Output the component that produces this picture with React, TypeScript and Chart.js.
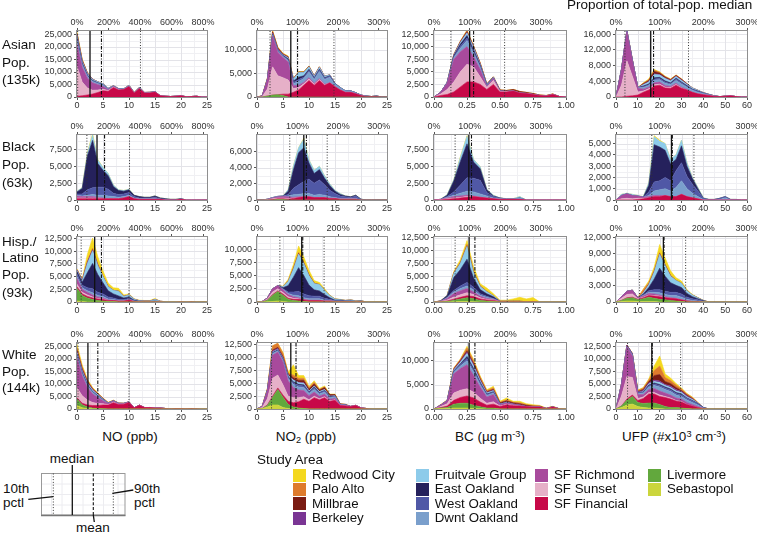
import React, { useEffect, useRef } from "react";
import { Chart, registerables } from "chart.js";
Chart.register(...registerables);

const FONT = '"Liberation Sans", Arial, Helvetica, sans-serif';
const PEOPLE_PER_UNIT = 1000; // series values below are in thousands of people

// ---- Study areas (legend order = top of stack first) ----
const AREA_KEYS = ["RC", "PA", "MB", "BK", "FV", "EO", "WO", "DO", "SR", "SS", "SF", "LV", "SB"];
const AREA_NAMES = ["Redwood City", "Palo Alto", "Millbrae", "Berkeley", "Fruitvale Group", "East Oakland", "West Oakland", "Dwnt Oakland", "SF Richmond", "SF Sunset", "SF Financial", "Livermore", "Sebastopol"];
const AREA_COLORS = ["#F4D81E", "#DE7B2C", "#7A1B12", "#7A3594", "#8DCBEA", "#25215C", "#5058A6", "#7A9FCC", "#A84A9C", "#E6B0C8", "#C70848", "#62A83D", "#CBD53C"];

const ROW_LABELS = [["Asian", "Pop.", "(135k)"], ["Black", "Pop.", "(63k)"], ["Hisp./", "Latino", "Pop.", "(93k)"], ["White", "Pop.", "(144k)"]];

// ---- x grids ----
const NO_X = [0, 1, 2, 3, 4, 5, 6, 7, 8, 9, 10, 11, 12, 13, 14, 15, 16, 17, 18, 19, 20, 21, 22, 23, 24, 25];
const NO2_X = [0, 1, 2, 3, 4, 5, 6, 7, 8, 9, 10, 11, 12, 13, 14, 15, 16, 17, 18, 19, 20, 21, 22, 23, 24, 25];
const BC_X = [0, 0.05, 0.1, 0.15, 0.2, 0.25, 0.3, 0.35, 0.4, 0.45, 0.5, 0.55, 0.6, 0.65, 0.7, 0.75, 0.8, 0.85, 0.9, 0.95, 1];
const UFP_X = [0, 2.5, 5, 7.5, 10, 12.5, 15, 17.5, 20, 22.5, 25, 27.5, 30, 32.5, 35, 37.5, 40, 42.5, 45, 47.5, 50, 52.5, 55, 57.5, 60];

// ---- axis ticks ----
const NO_XTICKS = [0, 5, 10, 15, 20, 25];
const NO_XLABELS = ["0", "5", "10", "15", "20", "25"];
const NO2_XTICKS = [0, 5, 10, 15, 20, 25];
const NO2_XLABELS = ["0", "5", "10", "15", "20", "25"];
const BC_XTICKS = [0, 0.25, 0.5, 0.75, 1];
const BC_XLABELS = ["0.00", "0.25", "0.50", "0.75", "1.00"];
const UFP_XTICKS = [0, 10, 20, 30, 40, 50, 60];
const UFP_XLABELS = ["0", "10", "20", "30", "40", "50", "60"];

const NO_PCT = [0, 200, 400, 600, 800];
const NO2_PCT = [0, 100, 200, 300];
const BC_PCT = [0, 100, 200, 300];
const UFP_PCT = [0, 100, 200, 300];
const NO_TOTAL_MEDIAN = 3.03;
const NO2_TOTAL_MEDIAN = 7.8;
const BC_TOTAL_MEDIAN = 0.27;
const UFP_TOTAL_MEDIAN = 20;

const NO_YTICKS = [[0, 5000, 10000, 15000, 20000, 25000], [0, 2500, 5000, 7500], [0, 2500, 5000, 7500, 10000, 12500], [0, 5000, 10000, 15000, 20000, 25000]];
const NO_YMAX = [26400, 9600, 12800, 26400];
const NO2_YTICKS = [[0, 5000, 10000], [0, 2000, 4000, 6000], [0, 2500, 5000, 7500, 10000], [0, 2500, 5000, 7500, 10000, 12500]];
const NO2_YMAX = [14000, 8100, 12300, 12850];
const BC_YTICKS = [[0, 2500, 5000, 7500, 10000, 12500], [0, 2500, 5000, 7500], [0, 2500, 5000, 7500, 10000, 12500], [0, 5000, 10000]];
const BC_YMAX = [13100, 9600, 12600, 13700];
const UFP_YTICKS = [[0, 4000, 8000, 12000, 16000], [0, 1000, 2000, 3000, 4000, 5000], [0, 3000, 6000, 9000, 12000], [0, 2500, 5000, 7500, 10000, 12500]];
const UFP_YMAX = [16800, 5760, 12100, 13200];

// ---- summary statistics (rows: Asian, Black, Hisp., White) ----
const NO_P10 = [0.13, 1.9, 0.8, 0.2];
const NO_MED = [2.5, 3.85, 3.4, 2.1];
const NO_MEAN = [4.7, 5.3, 4.7, 4.0];
const NO_P90 = [12.2, 10.1, 10.0, 10.0];
const NO2_P10 = [2.5, 6.3, 4.4, 2.8];
const NO2_MED = [6.5, 9.0, 8.6, 6.5];
const NO2_MEAN = [7.8, 9.5, 8.8, 7.5];
const NO2_P90 = [14.8, 13.5, 12.9, 13.8];
const BC_P10 = [0.128, 0.16, 0.16, 0.128];
const BC_MED = [0.27, 0.264, 0.266, 0.266];
const BC_MEAN = [0.3, 0.284, 0.31, 0.31];
const BC_P90 = [0.535, 0.417, 0.555, 0.558];
const UFP_P10 = [4.1, 16.4, 10.8, 5.3];
const UFP_MED = [15.9, 25.4, 21.7, 16.4];
const UFP_MEAN = [17.2, 25.8, 22.0, 16.6];
const UFP_P90 = [33.2, 35.7, 31.9, 29.6];

// ================= Asian =================
const aNO_SF = [0.3, 0.5, 0.8, 1.2, 1.8, 2.5, 2.3, 3.8, 2.8, 3, 4.2, 1.6, 3.4, 1.6, 1.6, 2, 0.5, 0.3, 0.2, 0.3, 0.5, 0.1, 0.2, 0.3];
const aNO_SS = [12, 5.5, 2.8, 1.5, 1, 0.6, 0.3, 0.2, 0.1];
const aNO_SR = [9, 6, 4, 3, 2.2, 1.2, 0.4, 0.2, 0.2];
const aNO_DO = [1.2, 0.8, 0.6, 0.5, 0.4, 0.4, 0.2, 0.1, 0.1, 0.1, 0.2, 0.1, 0.2, 0.1, 0.1, 0.1];
const aNO_WO = [0.6, 0.4, 0.3, 0.2, 0.2, 0.1];
const aNO_EO = [0.6, 0.4, 0.3, 0.2, 0.1, 0.1];
const aNO_FV = [0.8, 0.6, 0.5, 0.4, 0.4, 0.4, 0.3, 0.2, 0.2, 0.2, 0.3, 0.1, 0.3, 0.1, 0.2, 0.1];
const aNO_BK = [0.4, 0.3, 0.2, 0.1];
const aNO_MB = [0.4, 0.2, 0.1];
const aNO_PA = [0.3, 0.2, 0.1];
const aNO_RC = [0.4, 0.3, 0.1];

const aNO2_LV = [0, 0, 0.2, 0.4, 0.5, 0.3];
const aNO2_SF = [0, 0, 0, 0, 0, 0.3, 0.6, 1, 1.5, 2.5, 3.5, 2.5, 3.5, 2.5, 3, 2.2, 1.5, 1, 1, 0.7, 0.3, 0.1, 0.1, 0.1];
const aNO2_SS = [0, 0.1, 1.5, 6, 4, 3.5, 3, 0.8, 0.5, 0.3, 0.3, 0.2, 0.2, 0.1];
const aNO2_SR = [0, 0.1, 2, 6.5, 5, 4.3, 3.8, 0.6, 0.5, 0.3, 0.3, 0.2, 0.2, 0.1];
const aNO2_DO = [0, 0, 0, 0.2, 0.2, 0.2, 0.3, 0.4, 0.8, 0.8, 1.2, 0.8, 1.5, 1, 1.2, 0.5, 0.5, 0.3, 0.3, 0.2, 0.1, 0.1, 0, 0.1];
const aNO2_WO = [0, 0, 0, 0.1, 0.1, 0.1, 0.2, 0.3, 0.4, 0.3, 0.3, 0.2, 0.3, 0.2, 0.2, 0.1];
const aNO2_EO = [0, 0, 0, 0.1, 0.1, 0.1, 0.2, 0.3, 0.5, 0.3, 0.3, 0.2, 0.2, 0.2, 0.1];
const aNO2_FV = [0, 0, 0, 0.1, 0.1, 0.1, 0.2, 0.4, 1, 0.7, 0.5, 0.3, 0.4, 0.3, 0.2, 0.1];
const aNO2_BK = [0, 0, 0.1, 0.2, 0.2, 0.1, 0.1];
const aNO2_MB = [0, 0, 0.1, 0.2, 0.2, 0.1, 0.1, 0.1, 0.1, 0.1, 0.1, 0.1, 0.1];
const aNO2_PA = [0, 0.1, 0.1, 0.2, 0.1, 0.1, 0.1];
const aNO2_RC = [0, 0, 0, 0.1, 0.1, 0.1, 0.1, 0.1, 0.1, 0.1, 0.1];

const aBC_SF = [0, 0.3, 0.5, 1, 2, 3, 3, 2.5, 1.5, 2.5, 1, 1, 1.2, 0.8, 0.7, 0.5, 0.3, 0.2, 0.5, 0.1];
const aBC_SS = [0, 0.3, 1, 2, 3, 3.5, 3, 1.5, 0.4, 0.8, 0.1, 0.1];
const aBC_SR = [0, 0.3, 1.3, 4.5, 4, 3.5, 2, 1.5, 0.2, 0.4, 0.1];
const aBC_DO = [0, 0, 0.1, 0.3, 0.7, 1.2, 0.7, 0.4, 0.1, 0.1];
const aBC_WO = [0, 0, 0, 0.2, 0.4, 0.5, 0.3, 0.2, 0.1];
const aBC_EO = [0, 0, 0, 0.2, 0.4, 0.5, 0.4, 0.2, 0.1];
const aBC_FV = [0, 0, 0, 0.1, 0.3, 0.5, 0.4, 0.2, 0.1, 0.1];
const aBC_BK = [0, 0, 0, 0.05, 0.1, 0.1, 0.1, 0.1];
const aBC_MB = [0, 0, 0, 0.05, 0.1, 0.2, 0.1, 0.1, 0.1, 0.1, 0.2, 0.2, 0.3, 0.3, 0.2, 0.2, 0.1, 0.1, 0.1];
const aBC_PA = [0, 0, 0, 0.05, 0.1, 0.2, 0.1, 0.1];
const aBC_RC = [0, 0, 0, 0, 0, 0.1, 0.05];

const aUFP_SF = [0, 0, 0.2, 0.3, 0.5, 1.2, 1.8, 2.8, 3, 2.3, 2.2, 3, 2.2, 1.8, 1.2, 0.8, 0.6, 0.4, 0.2, 0.1, 0.2, 0.3, 0.1];
const aUFP_SS = [0, 3, 9, 5, 0.8, 0.3, 0.3, 0.3, 0.3, 0.2, 0.2, 0.2, 0.1];
const aUFP_SR = [0, 4, 7.5, 4, 1, 0.5, 0.4, 0.5, 0.5, 0.4, 0.3, 0.3, 0.2, 0.1];
const aUFP_DO = [0, 0, 0.1, 0.1, 0.1, 0.4, 0.4, 0.7, 0.6, 0.6, 0.5, 0.7, 0.8, 0.6, 0.5, 0.4, 0.3, 0.2, 0.1];
const aUFP_WO = [0, 0, 0, 0, 0, 0.2, 0.2, 0.3, 0.3, 0.3, 0.2, 0.3, 0.3, 0.2, 0.2, 0.2, 0.1];
const aUFP_EO = [0, 0, 0, 0, 0, 0.2, 0.2, 0.3, 0.3, 0.3, 0.2, 0.3, 0.2, 0.2, 0.1, 0.1];
const aUFP_FV = [0, 0, 0, 0, 0, 0.3, 0.5, 0.8, 0.6, 0.6, 0.5, 0.4, 0.4, 0.3, 0.3, 0.2, 0.1, 0.1];
const aUFP_BK = [0, 0, 0.1, 0.1, 0, 0.1, 0.1, 0.2, 0.1, 0.1, 0.1, 0.1, 0.1, 0.1];
const aUFP_MB = [0, 0, 0, 0, 0, 0.2, 0.3, 0.6, 0.4, 0.3, 0.2, 0.2, 0.2, 0.1];
const aUFP_PA = [0, 0, 0, 0, 0, 0.1, 0.2, 0.3, 0.2, 0.1, 0.1, 0.1, 0.1];
const aUFP_RC = [0, 0, 0, 0, 0, 0.1, 0.2, 0.2, 0.1, 0.1, 0.1];

// ================= Black =================
const bNO_SF = [0.2, 0.2, 0.2, 0.2, 0.2, 0.2, 0.2, 0.2, 0.2, 0.3, 0.5, 0.2, 0.1, 0.1, 0.1, 0.1, 0.1, 0, 0, 0, 0.1];
const bNO_SS = [0.1, 0.1, 0.1, 0.1, 0.1];
const bNO_SR = [0.3, 0.2, 0.2, 0.2, 0.1, 0.1];
const bNO_DO = [0.1, 0.1, 0.2, 0.3, 0.3, 0.4, 0.4, 0.3, 0.2, 0.2, 0.2, 0.1, 0.1, 0.1, 0.1, 0.1];
const bNO_WO = [0.2, 0.3, 0.8, 1, 1.2, 1.2, 1, 0.5, 0.4, 0.4, 0.4, 0.2, 0.1, 0.1, 0.1, 0.2, 0.1, 0.1, 0, 0, 0.1];
const bNO_EO = [0.3, 0.8, 5, 7, 3.5, 2.5, 2, 1, 0.6, 0.4, 0.4, 0.2, 0.2, 0.1, 0.1, 0.2, 0.1, 0.1, 0.1, 0.1];
const bNO_FV = [0.1, 0.1, 0.4, 0.8, 0.5, 0.4, 0.3, 0.2, 0.1, 0.1, 0.1];
const bNO_RC = [0, 0, 0.1, 0.2, 0.1];

const bNO2_LV = [0, 0, 0, 0, 0.05, 0.05];
const bNO2_SF = [0, 0, 0, 0.05, 0.1, 0.1, 0.1, 0.2, 0.3, 0.4, 0.4, 0.3, 0.3, 0.3, 0.2, 0.2, 0.1, 0.1, 0.1, 0.1];
const bNO2_SS = [0, 0, 0.05, 0.1, 0.1, 0.1, 0.1, 0.05];
const bNO2_SR = [0, 0, 0.05, 0.1, 0.15, 0.2, 0.2, 0.1, 0.1];
const bNO2_DO = [0, 0, 0, 0.05, 0.05, 0.05, 0.1, 0.3, 0.3, 0.4, 0.4, 0.3, 0.4, 0.3, 0.2, 0.1, 0.1, 0.1, 0.1, 0.1];
const bNO2_WO = [0, 0, 0, 0, 0, 0, 0.2, 0.8, 1.2, 1.5, 1.8, 1.5, 1.8, 1.3, 0.8, 0.5, 0.3, 0.2, 0.1, 0.3, 0.1];
const bNO2_EO = [0, 0, 0, 0, 0, 0, 0.4, 2.3, 4, 4.2, 2, 1.2, 1.3, 0.8, 0.6, 0.3, 0.2, 0.1, 0.1, 0.1];
const bNO2_FV = [0, 0, 0, 0, 0, 0, 0.2, 0.5, 0.6, 1.1, 0.4, 0.4, 0.4, 0.3, 0.2, 0.1, 0.1];
const bNO2_RC = [0, 0, 0, 0, 0, 0, 0, 0, 0, 0.1];

const bBC_SF = [0, 0, 0.1, 0.2, 0.3, 0.4, 0.5, 0.4, 0.3, 0.2, 0.1, 0.1, 0.1, 0.1];
const bBC_SS = [0, 0.05, 0.1, 0.1, 0.1, 0.1];
const bBC_SR = [0, 0.05, 0.1, 0.2, 0.2, 0.2, 0.1];
const bBC_DO = [0, 0, 0.1, 0.2, 0.4, 0.6, 0.6, 0.5, 0.3, 0.1, 0.1, 0.05, 0.05, 0.2];
const bBC_WO = [0, 0, 0.1, 0.5, 1.2, 2, 2, 2, 0.5, 0.2, 0.1];
const bBC_EO = [0, 0, 0.2, 1.6, 3.5, 5, 2.4, 1.7, 0.4, 0.1];
const bBC_FV = [0, 0, 0.1, 0.2, 0.6, 1.1, 0.4, 0.3, 0.1, 0.1, 0, 0.05, 0.05, 0.2];
const bBC_RC = [0, 0, 0, 0, 0.1, 0.1];

const bUFP_SF = [0, 0, 0, 0, 0.05, 0.1, 0.2, 0.3, 0.3, 0.4, 0.3, 0.3, 0.5, 0.3, 0.2, 0.1];
const bUFP_SS = [0, 0.1, 0.15, 0.1, 0.1, 0.05];
const bUFP_SR = [0, 0.3, 0.4, 0.3, 0.2, 0.1, 0.1, 0.1, 0.1];
const bUFP_DO = [0, 0, 0, 0, 0, 0, 0.1, 0.4, 0.5, 0.6, 0.5, 0.8, 1.2, 0.7, 0.4, 0.2, 0.05, 0, 0, 0.05, 0.2];
const bUFP_WO = [0, 0, 0, 0, 0, 0, 0.3, 0.8, 0.8, 1, 0.9, 1.5, 1.6, 1.1, 0.8, 0.5, 0.1, 0.05, 0.05, 0.1, 0.1, 0.05, 0.05];
const bUFP_EO = [0, 0, 0, 0, 0, 0, 0.6, 3.3, 3, 2.4, 1.5, 1, 1.5, 0.9, 0.5, 0.2];
const bUFP_FV = [0, 0.1, 0.05, 0.1, 0.05, 0.05, 0.2, 0.7, 0.5, 0.6, 0.4, 0.4, 0.5, 0.3, 0.1, 0.1, 0.05];
const bUFP_RC = [0, 0, 0, 0, 0, 0, 0, 0.1, 0.1];

// ================= Hispanic / Latino =================
const hNO_SB = [0.2, 0.1];
const hNO_LV = [2.5, 1.2, 0.8, 0.5, 0.3, 0.2, 0.1, 0.1];
const hNO_SF = [0.3, 0.3, 0.3, 0.3, 0.3, 0.3, 0.2, 0.2, 0.2, 0.2, 0.4, 0.1, 0.05, 0.05, 0.05, 0.1, 0.05, 0, 0, 0, 0.05, 0, 0.05];
const hNO_SS = [0.5, 0.3, 0.3, 0.2, 0.1, 0.1];
const hNO_SR = [1.2, 0.6, 0.5, 0.4, 0.3, 0.2, 0.1];
const hNO_DO = [0.3, 0.3, 0.3, 0.4, 0.3, 0.3, 0.2, 0.2, 0.1, 0.1, 0.1, 0.05];
const hNO_WO = [0.5, 0.5, 0.6, 0.8, 0.6, 0.5, 0.4, 0.3, 0.2, 0.2, 0.2, 0.1];
const hNO_EO = [0.5, 0.6, 3, 5, 3.5, 2.2, 1.2, 0.8, 0.7, 0.3, 0.3, 0.1, 0.1, 0.05, 0.05, 0.1];
const hNO_FV = [0.2, 0.3, 1.8, 2.5, 1.8, 1.2, 0.8, 0.7, 0.9, 0.3, 0.4, 0.2, 0.1, 0.1, 0.1, 0.3, 0.1, 0.05];
const hNO_BK = [0.1, 0.1, 0.1, 0.1];
const hNO_MB = [0, 0, 0.1, 0.1, 0.1];
const hNO_PA = [0.1, 0.1, 0.3, 0.3, 0.2, 0.1, 0.1];
const hNO_RC = [0.1, 0.1, 1.3, 2, 1.4, 1, 0.6, 0.5, 0.6, 0.3, 0.2, 0.1, 0.1, 0.1, 0.1, 0.2];

const hNO2_SB = [0, 0, 0.05, 0.1, 0.2, 0.1];
const hNO2_LV = [0, 0, 0.3, 1.2, 1.8, 1.2, 0.5, 0.3, 0.2, 0.1];
const hNO2_SF = [0, 0, 0, 0.1, 0.1, 0.2, 0.2, 0.2, 0.3, 0.3, 0.3, 0.3, 0.3, 0.2, 0.2, 0.1, 0.1, 0.1, 0.1, 0.05, 0.1];
const hNO2_SS = [0, 0.05, 0.2, 0.5, 0.4, 0.3, 0.3, 0.2, 0.1];
const hNO2_SR = [0, 0.05, 0.2, 0.6, 0.6, 0.5, 0.4, 0.3, 0.2, 0.1];
const hNO2_DO = [0, 0, 0, 0, 0, 0.1, 0.2, 0.3, 0.4, 0.3, 0.3, 0.3, 0.3, 0.2, 0.1, 0.05, 0.05, 0.05, 0.05];
const hNO2_WO = [0, 0, 0, 0, 0, 0.1, 0.3, 0.6, 0.8, 0.7, 0.6, 0.5, 0.5, 0.3, 0.2, 0.1, 0.1, 0.05, 0.05, 0.05, 0.05];
const hNO2_EO = [0, 0, 0, 0, 0, 0.2, 1.2, 2.8, 4.5, 3.5, 2, 1.2, 1, 0.7, 0.3, 0.1, 0.1];
const hNO2_FV = [0, 0, 0, 0, 0, 0.2, 0.8, 1.5, 2.6, 2.3, 1.8, 1.2, 1.2, 0.8, 0.4, 0.2, 0.1, 0.1, 0.2, 0.1, 0.1];
const hNO2_MB = [0, 0, 0, 0, 0, 0, 0, 0.1, 0.1, 0.1, 0.1, 0.05];
const hNO2_PA = [0, 0, 0, 0, 0, 0, 0.1, 0.2, 0.2, 0.1, 0.1];
const hNO2_RC = [0, 0, 0, 0, 0, 0.1, 0.3, 0.6, 1.2, 1, 0.8, 0.5, 0.4, 0.3, 0.1, 0.05, 0.05];

const hBC_SB = [0, 0, 0, 0.05, 0.1, 0.1, 0.05];
const hBC_LV = [0, 0, 0.1, 0.3, 0.5, 0.7, 0.6, 0.3, 0.2, 0.1];
const hBC_SF = [0, 0.05, 0.1, 0.2, 0.3, 0.4, 0.4, 0.3, 0.2, 0.2, 0.1, 0.1, 0.1, 0.1, 0.05, 0.1];
const hBC_SS = [0, 0.05, 0.2, 0.4, 0.5, 0.6, 0.4, 0.2, 0.1, 0.1];
const hBC_SR = [0, 0.05, 0.3, 0.7, 0.8, 0.8, 0.5, 0.3, 0.2, 0.1];
const hBC_DO = [0, 0, 0.1, 0.3, 0.4, 0.5, 0.4, 0.2, 0.2, 0.1];
const hBC_WO = [0, 0, 0.1, 0.3, 0.5, 0.7, 0.5, 0.3, 0.2, 0.1];
const hBC_EO = [0, 0.05, 0.3, 2.5, 3.2, 4.5, 1.8, 0.8, 0.5, 0.3];
const hBC_FV = [0, 0, 0.1, 0.8, 1.2, 2.5, 1, 0.6, 0.4, 0.2, 0.05, 0.05, 0.05, 0.05];
const hBC_MB = [0, 0, 0, 0.05, 0.05, 0.1, 0.1, 0.05];
const hBC_PA = [0, 0, 0, 0.1, 0.2, 0.3, 0.2, 0.1, 0.1];
const hBC_RC = [0, 0, 0, 0.2, 0.5, 0.7, 0.9, 0.4, 0.6, 0.4, 0.2, 0.2, 0.45, 0.75, 0.55, 0.75, 0.05];

const hUFP_SB = [0, 0.1, 0.2, 0.2, 0.1, 0.1, 0.1, 0.1];
const hUFP_LV = [0, 0.2, 0.5, 0.6, 0.3, 0.5, 0.8, 0.6, 0.5, 0.4, 0.3, 0.2, 0.1];
const hUFP_SF = [0, 0, 0.1, 0.1, 0.1, 0.2, 0.3, 0.4, 0.5, 0.4, 0.4, 0.4, 0.3, 0.2, 0.1, 0.1];
const hUFP_SS = [0, 0.4, 0.6, 0.6, 0.1, 0.1, 0.1, 0.1, 0.1];
const hUFP_SR = [0, 0.3, 0.6, 0.7, 0.2, 0.2, 0.3, 0.3, 0.2, 0.2, 0.1, 0.1];
const hUFP_DO = [0, 0, 0, 0, 0, 0.1, 0.2, 0.3, 0.4, 0.4, 0.4, 0.5, 0.5, 0.3, 0.2, 0.1, 0.05];
const hUFP_WO = [0, 0, 0, 0, 0, 0.1, 0.3, 0.5, 0.6, 0.6, 0.6, 0.6, 0.6, 0.4, 0.3, 0.2, 0.1];
const hUFP_EO = [0, 0, 0, 0, 0, 0.2, 0.6, 2, 4, 2.8, 1.8, 1.3, 1.2, 0.7, 0.4, 0.2, 0.1];
const hUFP_FV = [0, 0, 0, 0, 0, 0.2, 0.5, 1.3, 2.6, 2, 1.2, 0.9, 0.8, 0.5, 0.3, 0.2, 0.05];
const hUFP_MB = [0, 0, 0, 0, 0, 0, 0.1, 0.1, 0.1, 0.1, 0.1];
const hUFP_PA = [0, 0, 0, 0, 0, 0.6, 0.3, 0.2, 0.2, 0.1, 0.1];
const hUFP_RC = [0, 0, 0, 0, 0, 0.1, 0.3, 0.6, 1.5, 1.2, 0.8, 0.5, 0.4, 0.2, 0.1, 0.05];

// ================= White =================
const wNO_SB = [1.5, 0.5, 0.2, 0.1];
const wNO_LV = [2.5, 1.2, 0.6, 0.3, 0.2, 0.1];
const wNO_SF = [0.5, 0.6, 0.8, 1, 1.2, 1.5, 1.6, 2.5, 1.8, 1.9, 2.6, 0.5, 1.5, 0.6, 0.6, 0.4, 0.4, 0.2, 0.1, 0.2, 0.2, 0.1, 0.2, 0.1];
const wNO_SS = [4, 3, 2, 1.2, 0.8, 0.5, 0.2, 0.2, 0.1, 0.1];
const wNO_SR = [12, 8, 5, 3.5, 2.4, 1.2, 0.4, 0.4, 0.2, 0.2, 0.2];
const wNO_DO = [0.8, 0.7, 0.6, 0.5, 0.4, 0.3, 0.1, 0.1, 0.1];
const wNO_WO = [0.3, 0.3, 0.3, 0.2, 0.2, 0.1];
const wNO_EO = [0.3, 0.3, 0.3, 0.2, 0.1, 0.1];
const wNO_FV = [0.5, 0.5, 0.5, 0.5, 0.4, 0.2, 0.1, 0.1, 0.1, 0.1, 0.1];
const wNO_BK = [0.5, 0.5, 0.4, 0.3, 0.2, 0.1];
const wNO_MB = [0.7, 0.5, 0.3, 0.2, 0.2, 0.1, 0.1, 0.1, 0.1];
const wNO_PA = [1, 0.8, 0.5, 0.3, 0.2, 0.1, 0.1, 0.1];
const wNO_RC = [1.3, 0.7, 0.4, 0.3, 0.2, 0.1, 0.1];

const wNO2_SB = [0, 0.1, 0.4, 0.8, 0.8, 0.3, 0.1];
const wNO2_LV = [0, 0, 0.3, 1.5, 3, 2, 0.8, 0.4, 0.2, 0.1];
const wNO2_SF = [0, 0, 0.1, 0.2, 0.3, 0.4, 0.6, 0.8, 1.2, 1.8, 1.5, 2.2, 1.8, 2.2, 1.5, 1.7, 0.7, 0.6, 0.5, 0.7, 0.2, 0.1];
const wNO2_SS = [0, 0.2, 1.2, 3.5, 2.5, 2, 1, 1, 0.8, 0.5, 0.3, 0.3, 0.2, 0.2, 0.1, 0.1];
const wNO2_SR = [0, 0.2, 1.5, 4.5, 4.5, 4.5, 3, 2, 1.5, 1.2, 0.8, 0.8, 0.5, 0.5, 0.3, 0.3, 0.1, 0.1];
const wNO2_DO = [0, 0, 0.1, 0.3, 0.2, 0.3, 0.4, 0.6, 0.6, 0.6, 0.4, 0.5, 0.4, 0.4, 0.3, 0.3, 0.1, 0.1];
const wNO2_WO = [0, 0, 0, 0.1, 0.1, 0.1, 0.2, 0.3, 0.3, 0.3, 0.2, 0.3, 0.2, 0.2, 0.1, 0.1];
const wNO2_EO = [0, 0, 0, 0.1, 0.1, 0.1, 0.2, 0.2, 0.2, 0.2, 0.1, 0.2, 0.1, 0.1, 0.1];
const wNO2_FV = [0, 0, 0, 0.1, 0.1, 0.1, 0.2, 0.3, 0.3, 0.3, 0.2, 0.2, 0.2, 0.2, 0.1, 0.1];
const wNO2_BK = [0, 0, 0.1, 0.2, 0.2, 0.2, 0.1, 0.1, 0.1, 0.1];
const wNO2_MB = [0, 0, 0.1, 0.2, 0.2, 0.2, 0.2, 0.4, 0.4, 0.5, 0.4, 0.4, 0.3, 0.4, 0.3, 0.2, 0.1, 0.1];
const wNO2_PA = [0, 0.1, 0.2, 0.8, 0.8, 0.6, 0.2, 0.5, 0.4, 0.4, 0.3, 0.3, 0.1, 0.1];
const wNO2_RC = [0, 0, 0, 0, 0, 0.2, 0.2, 2, 0.5, 0.5, 0.2, 0.3, 0.2, 0.2, 0.1, 0.1];

const wBC_SB = [0, 0.1, 0.1, 0.2, 0.2, 0.2, 0.1, 0.05];
const wBC_LV = [0, 0.1, 0.2, 0.8, 1, 1, 0.7, 0.4, 0.2, 0.2];
const wBC_SF = [0, 0.1, 0.3, 0.8, 1.2, 1.5, 1.5, 1, 0.6, 0.8, 0.5, 0.9, 0.7, 0.6, 0.5, 0.4, 0.4, 0.1, 0.4, 0.05];
const wBC_SS = [0, 0.2, 0.5, 1.5, 1.5, 1.5, 1.2, 0.8, 0.4, 0.5, 0.1, 0.1, 0.1];
const wBC_SR = [0, 0.3, 0.6, 4, 4.5, 5, 3.5, 2.3, 1.3, 1.5, 0.3, 0.3, 0.2, 0.2];
const wBC_DO = [0, 0, 0.05, 0.3, 0.5, 0.8, 0.7, 0.5, 0.3, 0.3, 0.1, 0.1];
const wBC_WO = [0, 0, 0, 0.2, 0.3, 0.5, 0.4, 0.3, 0.2, 0.2];
const wBC_EO = [0, 0, 0, 0.1, 0.2, 0.4, 0.3, 0.2, 0.1, 0.1];
const wBC_FV = [0, 0, 0, 0.2, 0.3, 0.6, 0.5, 0.3, 0.2, 0.2];
const wBC_BK = [0, 0, 0, 0.1, 0.2, 0.3, 0.3, 0.2, 0.1, 0.1];
const wBC_MB = [0, 0, 0, 0.1, 0.2, 0.3, 0.3, 0.2, 0.2, 0.2, 0.3, 0.3, 0.3, 0.3, 0.3, 0.2, 0.15, 0.05, 0.1];
const wBC_PA = [0, 0.1, 0.1, 0.2, 0.2, 0.6, 0.5, 0.4, 0.2, 0.3, 0.1, 0.2, 0.1, 0.2, 0.1, 0.1, 0.1];
const wBC_RC = [0, 0, 0, 0, 0.1, 0.3, 0.3, 0.2, 0.2, 0.3, 0.2, 0.4, 0.2, 0.3, 0.2, 0.2, 0.1, 0.05, 0.05];

const wUFP_SB = [0, 0.3, 0.8, 1, 0.5, 0.3, 0.2, 0.2, 0.1];
const wUFP_LV = [0, 0.3, 1, 1.5, 0.8, 0.8, 1, 1, 0.8, 0.5, 0.3, 0.3, 0.2, 0.1];
const wUFP_SF = [0, 0, 0.2, 0.3, 0.4, 1, 1.8, 1.8, 1.6, 1.8, 1.7, 1.3, 1.2, 0.8, 0.6, 0.3, 0.1];
const wUFP_SS = [0, 2, 4.5, 3.5, 0.4, 0.3, 0.3, 0.3, 0.3, 0.2, 0.2, 0.1, 0.1];
const wUFP_SR = [0, 2.3, 6, 4.3, 0.8, 0.5, 0.6, 0.8, 0.8, 0.7, 0.6, 0.5, 0.5, 0.4, 0.3, 0.2];
const wUFP_DO = [0, 0, 0.1, 0.2, 0.2, 0.3, 0.5, 0.6, 0.8, 0.7, 0.7, 0.6, 0.5, 0.5, 0.4, 0.3, 0.1];
const wUFP_WO = [0, 0, 0, 0.1, 0.1, 0.1, 0.2, 0.3, 0.3, 0.3, 0.3, 0.3, 0.3, 0.3, 0.3, 0.2, 0.1];
const wUFP_EO = [0, 0, 0, 0, 0, 0.1, 0.2, 0.2, 0.2, 0.2, 0.2, 0.2, 0.2, 0.1, 0.1, 0.1];
const wUFP_FV = [0, 0, 0, 0, 0, 0.1, 0.2, 0.3, 0.4, 0.3, 0.3, 0.3, 0.3, 0.2, 0.2, 0.1];
const wUFP_BK = [0, 0.1, 0.2, 0.2, 0.2, 0.2, 0.2, 0.3, 0.3, 0.2, 0.3, 0.3, 0.2, 0.2, 0.1];
const wUFP_MB = [0, 0, 0, 0, 0.1, 0.2, 0.3, 0.9, 1.3, 0.6, 0.5, 0.4, 0.2, 0.2, 0.1];
const wUFP_PA = [0, 0, 0, 0, 0.2, 0.3, 0.3, 1, 1.7, 0.8, 0.6, 0.5, 0.3, 0.2, 0.2, 0.1];
const wUFP_RC = [0, 0, 0, 0, 0.1, 0.1, 0.2, 0.9, 2, 0.7, 0.5, 0.3, 0.2, 0.1, 0.1];

// ---- tables built from the arrays above ----
const COLUMNS = [
  { xs: NO_X, xMin: 0, xMax: 25, xTicks: NO_XTICKS, xLabels: NO_XLABELS, pct: NO_PCT, totalMed: NO_TOTAL_MEDIAN, yTicks: NO_YTICKS, yMax: NO_YMAX, p10: NO_P10, med: NO_MED, mean: NO_MEAN, p90: NO_P90 },
  { xs: NO2_X, xMin: 0, xMax: 25, xTicks: NO2_XTICKS, xLabels: NO2_XLABELS, pct: NO2_PCT, totalMed: NO2_TOTAL_MEDIAN, yTicks: NO2_YTICKS, yMax: NO2_YMAX, p10: NO2_P10, med: NO2_MED, mean: NO2_MEAN, p90: NO2_P90 },
  { xs: BC_X, xMin: 0, xMax: 1, xTicks: BC_XTICKS, xLabels: BC_XLABELS, pct: BC_PCT, totalMed: BC_TOTAL_MEDIAN, yTicks: BC_YTICKS, yMax: BC_YMAX, p10: BC_P10, med: BC_MED, mean: BC_MEAN, p90: BC_P90 },
  { xs: UFP_X, xMin: 0, xMax: 60, xTicks: UFP_XTICKS, xLabels: UFP_XLABELS, pct: UFP_PCT, totalMed: UFP_TOTAL_MEDIAN, yTicks: UFP_YTICKS, yMax: UFP_YMAX, p10: UFP_P10, med: UFP_MED, mean: UFP_MEAN, p90: UFP_P90 },
];

const PANEL_SERIES = [
  [
    { RC: aNO_RC, PA: aNO_PA, MB: aNO_MB, BK: aNO_BK, FV: aNO_FV, EO: aNO_EO, WO: aNO_WO, DO: aNO_DO, SR: aNO_SR, SS: aNO_SS, SF: aNO_SF },
    { RC: aNO2_RC, PA: aNO2_PA, MB: aNO2_MB, BK: aNO2_BK, FV: aNO2_FV, EO: aNO2_EO, WO: aNO2_WO, DO: aNO2_DO, SR: aNO2_SR, SS: aNO2_SS, SF: aNO2_SF, LV: aNO2_LV },
    { RC: aBC_RC, PA: aBC_PA, MB: aBC_MB, BK: aBC_BK, FV: aBC_FV, EO: aBC_EO, WO: aBC_WO, DO: aBC_DO, SR: aBC_SR, SS: aBC_SS, SF: aBC_SF },
    { RC: aUFP_RC, PA: aUFP_PA, MB: aUFP_MB, BK: aUFP_BK, FV: aUFP_FV, EO: aUFP_EO, WO: aUFP_WO, DO: aUFP_DO, SR: aUFP_SR, SS: aUFP_SS, SF: aUFP_SF },
  ],
  [
    { RC: bNO_RC, FV: bNO_FV, EO: bNO_EO, WO: bNO_WO, DO: bNO_DO, SR: bNO_SR, SS: bNO_SS, SF: bNO_SF },
    { RC: bNO2_RC, FV: bNO2_FV, EO: bNO2_EO, WO: bNO2_WO, DO: bNO2_DO, SR: bNO2_SR, SS: bNO2_SS, SF: bNO2_SF, LV: bNO2_LV },
    { RC: bBC_RC, FV: bBC_FV, EO: bBC_EO, WO: bBC_WO, DO: bBC_DO, SR: bBC_SR, SS: bBC_SS, SF: bBC_SF },
    { RC: bUFP_RC, FV: bUFP_FV, EO: bUFP_EO, WO: bUFP_WO, DO: bUFP_DO, SR: bUFP_SR, SS: bUFP_SS, SF: bUFP_SF },
  ],
  [
    { RC: hNO_RC, PA: hNO_PA, MB: hNO_MB, BK: hNO_BK, FV: hNO_FV, EO: hNO_EO, WO: hNO_WO, DO: hNO_DO, SR: hNO_SR, SS: hNO_SS, SF: hNO_SF, LV: hNO_LV, SB: hNO_SB },
    { RC: hNO2_RC, PA: hNO2_PA, MB: hNO2_MB, FV: hNO2_FV, EO: hNO2_EO, WO: hNO2_WO, DO: hNO2_DO, SR: hNO2_SR, SS: hNO2_SS, SF: hNO2_SF, LV: hNO2_LV, SB: hNO2_SB },
    { RC: hBC_RC, PA: hBC_PA, MB: hBC_MB, FV: hBC_FV, EO: hBC_EO, WO: hBC_WO, DO: hBC_DO, SR: hBC_SR, SS: hBC_SS, SF: hBC_SF, LV: hBC_LV, SB: hBC_SB },
    { RC: hUFP_RC, PA: hUFP_PA, MB: hUFP_MB, FV: hUFP_FV, EO: hUFP_EO, WO: hUFP_WO, DO: hUFP_DO, SR: hUFP_SR, SS: hUFP_SS, SF: hUFP_SF, LV: hUFP_LV, SB: hUFP_SB },
  ],
  [
    { RC: wNO_RC, PA: wNO_PA, MB: wNO_MB, BK: wNO_BK, FV: wNO_FV, EO: wNO_EO, WO: wNO_WO, DO: wNO_DO, SR: wNO_SR, SS: wNO_SS, SF: wNO_SF, LV: wNO_LV, SB: wNO_SB },
    { RC: wNO2_RC, PA: wNO2_PA, MB: wNO2_MB, BK: wNO2_BK, FV: wNO2_FV, EO: wNO2_EO, WO: wNO2_WO, DO: wNO2_DO, SR: wNO2_SR, SS: wNO2_SS, SF: wNO2_SF, LV: wNO2_LV, SB: wNO2_SB },
    { RC: wBC_RC, PA: wBC_PA, MB: wBC_MB, BK: wBC_BK, FV: wBC_FV, EO: wBC_EO, WO: wBC_WO, DO: wBC_DO, SR: wBC_SR, SS: wBC_SS, SF: wBC_SF, LV: wBC_LV, SB: wBC_SB },
    { RC: wUFP_RC, PA: wUFP_PA, MB: wUFP_MB, BK: wUFP_BK, FV: wUFP_FV, EO: wUFP_EO, WO: wUFP_WO, DO: wUFP_DO, SR: wUFP_SR, SS: wUFP_SS, SF: wUFP_SF, LV: wUFP_LV, SB: wUFP_SB },
  ],
];

// ---- layout (pixels) ----
const COL_LEFT = [77, 257, 434, 616];
const COL_W = [130, 130, 132, 131];
const ROW_TOP = [31, 135, 237, 343];
const ROW_H = [66, 65, 65, 66];
const YW = 48, TH = 20, BH = 16, PR = 14;
const TICK_FONT = { size: 9, family: FONT };
const TICK_COLOR = "#333";

function Panel({ row, col }: { row: number; col: number }) {
  const ref = useRef<HTMLCanvasElement | null>(null);
  const C = COLUMNS[col];
  const w = YW + COL_W[col] + PR;
  const h = TH + ROW_H[row] + BH;
  useEffect(() => {
    const series = PANEL_SERIES[row][col] as Record<string, number[]>;
    const datasets: any[] = [];
    for (let k = AREA_KEYS.length - 1; k >= 0; k--) {
      const vals = series[AREA_KEYS[k]];
      if (!vals) continue;
      const first = datasets.length === 0;
      datasets.push({
        label: AREA_NAMES[k],
        data: C.xs.map((x, i) => ({ x, y: (vals[i] || 0) * PEOPLE_PER_UNIT })),
        backgroundColor: AREA_COLORS[k],
        borderColor: AREA_COLORS[k],
        borderWidth: 0.6,
        pointRadius: 0,
        tension: 0,
        fill: first ? "origin" : "-1",
        xAxisID: "x",
        yAxisID: "y",
      });
    }
    const yTicks = C.yTicks[row];
    const yMax = C.yMax[row];
    const stats = [
      { v: C.p10[row], dash: [1, 1.8], w: 1, c: "#333" },
      { v: C.p90[row], dash: [1, 1.8], w: 1, c: "#333" },
      { v: C.mean[row], dash: [3.5, 1.5, 1, 1.5], w: 1.1, c: "#111" },
      { v: C.med[row], dash: [], w: 1.3, c: "#111" },
    ];
    const decor = {
      id: "decor" + row + col,
      beforeDatasetsDraw(chart: any) {
        const { ctx, chartArea: a, scales } = chart;
        ctx.save();
        ctx.beginPath();
        ctx.rect(a.left, a.top, a.right - a.left, a.bottom - a.top);
        ctx.clip();
        const vLine = (px: number, color: string, lw: number) => {
          const x = Math.round(px) + 0.5;
          ctx.beginPath(); ctx.strokeStyle = color; ctx.lineWidth = lw;
          ctx.moveTo(x, a.top); ctx.lineTo(x, a.bottom); ctx.stroke();
        };
        const hLine = (py: number, color: string, lw: number) => {
          const y = Math.round(py) + 0.5;
          ctx.beginPath(); ctx.strokeStyle = color; ctx.lineWidth = lw;
          ctx.moveTo(a.left, y); ctx.lineTo(a.right, y); ctx.stroke();
        };
        const xt = C.xTicks;
        for (let i = 0; i < xt.length - 1; i++) vLine(scales.x.getPixelForValue((xt[i] + xt[i + 1]) / 2), "#f0f0f3", 1);
        for (let i = 0; i < yTicks.length; i++) {
          const step = yTicks[1] - yTicks[0];
          const mid = yTicks[i] + step / 2;
          if (mid < yMax) hLine(scales.y.getPixelForValue(mid), "#f0f0f3", 1);
        }
        xt.forEach((v) => vLine(scales.x.getPixelForValue(v), "#e3e3e8", 1));
        yTicks.forEach((v) => hLine(scales.y.getPixelForValue(v), "#e3e3e8", 1));
        ctx.restore();
      },
      afterDatasetsDraw(chart: any) {
        const { ctx, chartArea: a, scales } = chart;
        ctx.save();
        ctx.beginPath();
        ctx.rect(a.left, a.top, a.right - a.left, a.bottom - a.top);
        ctx.clip();
        stats.forEach((s) => {
          const x = scales.x.getPixelForValue(s.v);
          ctx.beginPath();
          ctx.setLineDash(s.dash);
          ctx.lineWidth = s.w;
          ctx.strokeStyle = s.c;
          ctx.moveTo(x, a.top);
          ctx.lineTo(x, a.bottom);
          ctx.stroke();
        });
        ctx.restore();
        ctx.save();
        ctx.setLineDash([]);
        ctx.strokeStyle = "#8f8f8f";
        ctx.lineWidth = 1;
        ctx.strokeRect(Math.round(a.left) - 0.5, Math.round(a.top) - 0.5, Math.round(a.right - a.left) + 1, Math.round(a.bottom - a.top) + 1);
        ctx.restore();
      },
    };
    const tickGrid = { display: true, drawOnChartArea: false, drawTicks: true, tickLength: 3, color: "#555" };
    const chart = new Chart(ref.current as HTMLCanvasElement, {
      type: "line",
      data: { datasets },
      options: {
        responsive: false,
        animation: false,
        events: [],
        layout: { padding: { left: 0, right: PR, top: 0, bottom: 0 } },
        plugins: { legend: { display: false }, tooltip: { enabled: false } },
        scales: {
          x: {
            type: "linear", position: "bottom", min: C.xMin, max: C.xMax,
            afterBuildTicks: (s: any) => { s.ticks = C.xTicks.map((v) => ({ value: v })); },
            afterFit: (s: any) => { s.height = BH; s.paddingLeft = 0; s.paddingRight = 0; },
            ticks: { font: TICK_FONT, color: TICK_COLOR, padding: 0, maxRotation: 0, autoSkip: false, callback: (_v: any, i: number) => C.xLabels[i] },
            grid: tickGrid, border: { display: false },
          },
          x2: {
            type: "linear", axis: "x", position: "top", min: C.xMin, max: C.xMax,
            afterBuildTicks: (s: any) => { s.ticks = C.pct.map((p) => ({ value: (p / 100) * C.totalMed })); },
            afterFit: (s: any) => { s.height = TH; s.paddingLeft = 0; s.paddingRight = 0; },
            ticks: { font: TICK_FONT, color: TICK_COLOR, padding: 0, maxRotation: 0, autoSkip: false, callback: (_v: any, i: number) => C.pct[i] + "%" },
            grid: tickGrid, border: { display: false },
          },
          y: {
            type: "linear", position: "left", stacked: true, min: 0, max: yMax,
            afterBuildTicks: (s: any) => { s.ticks = yTicks.map((v) => ({ value: v })); },
            afterFit: (s: any) => { s.width = YW; s.paddingTop = 0; s.paddingBottom = 0; },
            ticks: { font: TICK_FONT, color: TICK_COLOR, padding: 2, autoSkip: false, callback: (v: any) => Number(v).toLocaleString("en-US") },
            grid: tickGrid, border: { display: false },
          },
        },
      } as any,
      plugins: [decor],
    });
    return () => chart.destroy();
  }, [row, col]);
  return (
    <canvas
      ref={ref}
      width={w}
      height={h}
      style={{ position: "absolute", left: COL_LEFT[col] - YW, top: ROW_TOP[row] - TH, width: w, height: h }}
    />
  );
}

const ROW_LABEL_Y = [[45, 62.5, 80], [146.7, 165, 182.7], [241.7, 258.3, 275, 292.7], [355, 371.7, 388]];
const LEGEND_COLS = [[0, 1, 2, 3], [4, 5, 6, 7], [8, 9, 10], [11, 12]];
const LEGEND_X = [293, 415.7, 535, 648];
const LEGEND_Y = [475, 489.3, 503.6, 518];

export default function App() {
  useEffect(() => {
    document.body.style.margin = "0";
  }, []);
  const txt = { position: "absolute" as const, fontFamily: FONT, color: "#111", whiteSpace: "nowrap" as const };
  const sub = { fontSize: "0.68em", verticalAlign: "-0.25em", lineHeight: 0 };
  const sup = { fontSize: "0.68em", verticalAlign: "0.45em", lineHeight: 0 };
  return (
    <div style={{ position: "absolute", left: 0, top: 0, width: 757, height: 533, overflow: "hidden", background: "#fff", fontFamily: FONT }}>
      {[0, 1, 2, 3].map((r) => [0, 1, 2, 3].map((c) => <Panel key={r + "-" + c} row={r} col={c} />))}

      <div style={{ ...txt, left: 567, top: -2, fontSize: 13.5, lineHeight: "14px" }}>Proportion of total-pop. median</div>

      {ROW_LABELS.map((lines, r) =>
        lines.map((t, i) => (
          <div key={"rl" + r + i} style={{ ...txt, left: 2, top: ROW_LABEL_Y[r][i] - 8, fontSize: 13.5, lineHeight: "16px" }}>{t}</div>
        ))
      )}

      <div style={{ ...txt, left: 30, width: 200, top: 429, textAlign: "center", fontSize: 13.5, lineHeight: "16px" }}>NO (ppb)</div>
      <div style={{ ...txt, left: 206, width: 200, top: 429, textAlign: "center", fontSize: 13.5, lineHeight: "16px" }}>NO<span style={sub}>2</span> (ppb)</div>
      <div style={{ ...txt, left: 390, width: 200, top: 429, textAlign: "center", fontSize: 13.5, lineHeight: "16px" }}>BC (µg m<span style={sup}>-3</span>)</div>
      <div style={{ ...txt, left: 574, width: 200, top: 429, textAlign: "center", fontSize: 13.5, lineHeight: "16px" }}>UFP (#x10<span style={sup}>3</span> cm<span style={sup}>-3</span>)</div>

      <div style={{ ...txt, left: 257, top: 452, fontSize: 13.5, lineHeight: "16px" }}>Study Area</div>
      {LEGEND_COLS.map((idxs, ci) =>
        idxs.map((k, ri) => (
          <React.Fragment key={"lg" + k}>
            <div style={{ position: "absolute", left: LEGEND_X[ci], top: LEGEND_Y[ri] - 6.5, width: 13, height: 13, background: AREA_COLORS[k] }} />
            <div style={{ ...txt, left: LEGEND_X[ci] + 19, top: LEGEND_Y[ri] - 8, fontSize: 13.3, lineHeight: "16px" }}>{AREA_NAMES[k]}</div>
          </React.Fragment>
        ))
      )}

      <svg width={180} height={93} style={{ position: "absolute", left: 0, top: 440 }}>
        {[51.5, 62, 83, 103.5, 118].map((x) => (
          <line key={"vg" + x} x1={x} y1={33.5} x2={x} y2={75} stroke="#ececf0" strokeWidth={1} />
        ))}
        {[44, 54.5, 65].map((y) => (
          <line key={"hg" + y} x1={41} y1={y} x2={125} y2={y} stroke="#ececf0" strokeWidth={1} />
        ))}
        <rect x={41.5} y={33.5} width={83.5} height={41.5} fill="none" stroke="#999" strokeWidth={1} />
        <line x1={41} y1={75.5} x2={125.5} y2={75.5} stroke="#777" strokeWidth={1.5} />
        <line x1={53.3} y1={33.5} x2={53.3} y2={75} stroke="#333" strokeWidth={1} strokeDasharray="1 1.8" />
        <line x1={72.3} y1={33.5} x2={72.3} y2={75} stroke="#111" strokeWidth={1.3} />
        <line x1={93.3} y1={33.5} x2={93.3} y2={75} stroke="#111" strokeWidth={1.1} strokeDasharray="3 1.8" />
        <line x1={113.3} y1={33.5} x2={113.3} y2={75} stroke="#333" strokeWidth={1} strokeDasharray="1 1.8" />
        <line x1={72.3} y1={25} x2={72.3} y2={33.5} stroke="#111" strokeWidth={1.3} />
        <line x1={28.3} y1={59.3} x2={53.3} y2={56.7} stroke="#111" strokeWidth={1.3} />
        <line x1={112.3} y1={53.3} x2={133.3} y2={50} stroke="#111" strokeWidth={1.3} />
        <line x1={93.3} y1={75} x2={94.3} y2={82} stroke="#111" strokeWidth={1.3} />
        <g fontFamily={FONT} fontSize={13.5} fill="#111">
          <text x={72} y={23} textAnchor="middle">median</text>
          <text x={3} y={53}>10th</text>
          <text x={3} y={67}>pctl</text>
          <text x={134} y={53}>90th</text>
          <text x={134} y={67}>pctl</text>
          <text x={93} y={92} textAnchor="middle">mean</text>
        </g>
      </svg>
    </div>
  );
}
